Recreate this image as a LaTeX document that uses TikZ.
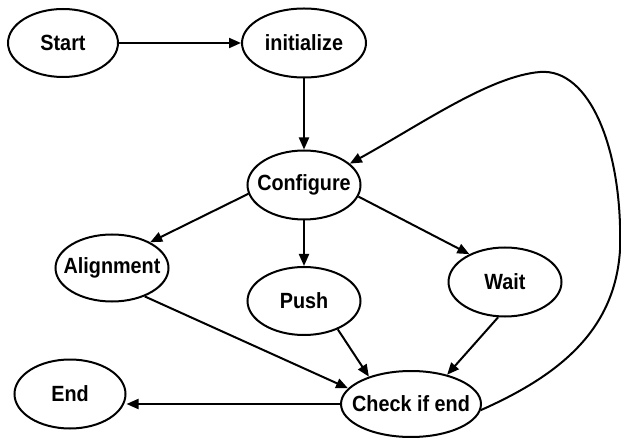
\documentclass[tikz,border=0pt]{standalone}
\usepackage{fontspec}
\setmainfont{Liberation Sans}[FakeStretch=0.9]
\usetikzlibrary{shapes.geometric,arrows.meta}
\begin{document}
\begin{tikzpicture}[x=1pt,y=-1pt,
  st/.style={ellipse,draw,line width=2pt,inner sep=0pt,font=\bfseries\fontsize{22}{24}\selectfont},
  ar/.style={line width=2pt,-{Triangle[length=12pt,width=10pt]}}]
\useasboundingbox (0,0) rectangle (621,438);
\node[st,minimum width=110pt,minimum height=68pt] (start) at (63,43) {\makebox[0pt]{Start}};
\node[st,minimum width=124pt,minimum height=69pt] (init) at (304,43) {\makebox[0pt]{initialize}};
\node[st,minimum width=113pt,minimum height=69pt] (conf) at (304,185) {\makebox[0pt]{Configure}};
\node[st,minimum width=113pt,minimum height=67pt] (align) at (112,268) {\makebox[0pt]{Alignment}};
\node[st,minimum width=113pt,minimum height=68pt] (push) at (304,301) {\makebox[0pt]{Push}};
\node[st,minimum width=113pt,minimum height=69pt] (wait) at (505,282) {\makebox[0pt]{Wait}};
\node[st,minimum width=111pt,minimum height=69pt] (end) at (70,394) {\makebox[0pt]{End}};
\node[st,minimum width=140pt,minimum height=66pt] (chk) at (411,404) {\makebox[0pt]{Check if end}};
\draw[ar] (start) -- (init);
\draw[ar] (init) -- (conf);
\draw[ar] (conf.189) -- (align.34);
\draw[ar] (conf) -- (push);
\draw[ar] (conf.348) -- (wait.142);
\draw[ar] (align.319) -- (chk.166);
\draw[ar] (push.320) -- (chk.147);
\draw[ar] (wait.259) -- (chk.39);
\draw[ar] (chk.west) -- (chk.west -| end.east);
\draw[ar] (chk.355) .. controls (560,375) and (615,330) .. (620,250)
  .. controls (623,150) and (590,68) .. (540,72)
  .. controls (490,76) and (420,125) .. (conf.25);
\end{tikzpicture}
\end{document}
